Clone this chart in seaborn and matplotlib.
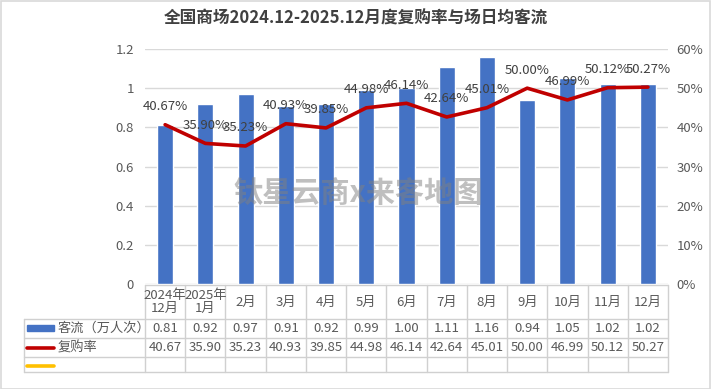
import matplotlib
matplotlib.use("Agg")
import matplotlib.pyplot as plt
import seaborn as sns
import pandas as pd
from matplotlib.lines import Line2D
from matplotlib.patches import Rectangle

categories = ["2024年\n12月", "2025年\n1月", "2月", "3月", "4月", "5月", "6月", "7月", "8月", "9月", "10月", "11月", "12月"]
traffic = [0.81, 0.92, 0.97, 0.91, 0.92, 0.99, 1.00, 1.11, 1.16, 0.94, 1.05, 1.02, 1.02]
repurchase = [40.67, 35.90, 35.23, 40.93, 39.85, 44.98, 46.14, 42.64, 45.01, 50.00, 46.99, 50.12, 50.27]
left_ticks = [0, 0.2, 0.4, 0.6, 0.8, 1.0, 1.2]
left_labels = ["0", "0.2", "0.4", "0.6", "0.8", "1", "1.2"]
right_ticks = [0, 10, 20, 30, 40, 50, 60]
right_labels = ["0%", "10%", "20%", "30%", "40%", "50%", "60%"]
title = "全国商场2024.12-2025.12月度复购率与场日均客流"
series_names = ["客流（万人次）", "复购率"]

sns.set_theme(style="white")
plt.rcParams['font.family'] = ['Noto Sans CJK SC', 'DejaVu Sans']

BLUE = "#4472C4"
RED = "#C00000"
TXT = "#595959"
GRID = "#D9D9D9"

W, H = 711, 389
fig = plt.figure(figsize=(W / 100, H / 100), dpi=100)
fig.patch.set_facecolor("white")

def fx(x):
    return x / W

def fy(y):
    return 1 - y / H

L, R, T, B = 145, 668, 49, 284
ax = fig.add_axes([fx(L), fy(B), fx(R) - fx(L), fy(T) - fy(B)])

df = pd.DataFrame({"cat": [str(i) for i in range(len(categories))], "traffic": traffic,
                   "pos": list(range(len(categories))), "rate": repurchase})
sns.barplot(data=df, x="cat", y="traffic", color=BLUE, saturation=1, width=0.4, ax=ax)
ax.set_xlim(-0.5, len(categories) - 0.5)
ax.set_ylim(0, 1.2)
ax.set_yticks(left_ticks)
ax.set_yticklabels(left_labels)
ax.set_xticks([])
ax.set_xlabel("")
ax.set_ylabel("")
ax.yaxis.grid(True, color=GRID, linewidth=1)
ax.set_axisbelow(True)
for s in ax.spines.values():
    s.set_visible(False)
ax.tick_params(axis="y", length=0, labelsize=9.5, labelcolor=TXT, pad=8)

ax2 = ax.twinx()
sns.lineplot(data=df, x="pos", y="rate", color=RED, linewidth=2.6, ax=ax2)
ax2.set_ylim(0, 60)
ax2.set_yticks(right_ticks)
ax2.set_yticklabels(right_labels)
ax2.set_xlim(-0.5, len(categories) - 0.5)
ax2.set_xlabel("")
ax2.set_ylabel("")
for s in ax2.spines.values():
    s.set_visible(False)
ax2.tick_params(axis="y", length=0, labelsize=9.5, labelcolor=TXT, pad=6)
for i, v in enumerate(repurchase):
    ax2.annotate(f"{v:.2f}%", (i, v), xytext=(0, 13), textcoords="offset points",
                 ha="center", va="center", fontsize=9.5, color="#404040")

# watermark
fig.text(fx(358), fy(193), "钛星云商x来客地图", fontsize=21, fontweight="bold",
         color="#808080", alpha=0.5, ha="center", va="center")

# title
fig.text(fx(356), fy(19), title, fontsize=12, fontweight="bold", color="#404040",
         ha="center", va="center")

# data table
n = len(categories)
colw = (R - L) / n
rows_y = [285, 319, 338, 357, 372]
LEG = 24
lc = "#D0D0D0"
def hline(x0, x1, y):
    fig.add_artist(Line2D([fx(x0), fx(x1)], [fy(y), fy(y)], color=lc, linewidth=1))
def vline(x, y0, y1):
    fig.add_artist(Line2D([fx(x), fx(x)], [fy(y0), fy(y1)], color=lc, linewidth=1))
hline(L, R, rows_y[0])
for y in rows_y[1:]:
    hline(LEG, R, y)
vline(LEG, rows_y[1], rows_y[4])
for i in range(n + 1):
    vline(L + i * colw, rows_y[0], rows_y[4])
for i, c in enumerate(categories):
    cx = L + (i + 0.5) * colw
    fig.text(fx(cx), fy((rows_y[0] + rows_y[1]) / 2), c, fontsize=9.5, color=TXT,
             ha="center", va="center", linespacing=1.05)
    fig.text(fx(cx), fy((rows_y[1] + rows_y[2]) / 2), f"{traffic[i]:.2f}", fontsize=9.5,
             color=TXT, ha="center", va="center")
    fig.text(fx(cx), fy((rows_y[2] + rows_y[3]) / 2), f"{repurchase[i]:.2f}", fontsize=9.5,
             color=TXT, ha="center", va="center")
# legend keys
fig.add_artist(Rectangle((fx(27), fy(331)), fx(54) - fx(27), fy(325) - fy(331), color=BLUE))
fig.text(fx(58), fy(328.5), series_names[0], fontsize=9.5, color=TXT, ha="left", va="center")
fig.add_artist(Line2D([fx(27), fx(54)], [fy(348), fy(348)], color=RED, linewidth=2.6))
fig.text(fx(58), fy(348), series_names[1], fontsize=9.5, color=TXT, ha="left", va="center")
fig.add_artist(Line2D([fx(27), fx(54)], [fy(366), fy(366)], color="#FFC000", linewidth=2.6))

# border
fig.add_artist(Rectangle((0.001, 0.001), 0.998, 0.997, fill=False, edgecolor="#D9D9D9",
                         linewidth=1.2, transform=fig.transFigure))

fig.savefig("out.png", dpi=100)
